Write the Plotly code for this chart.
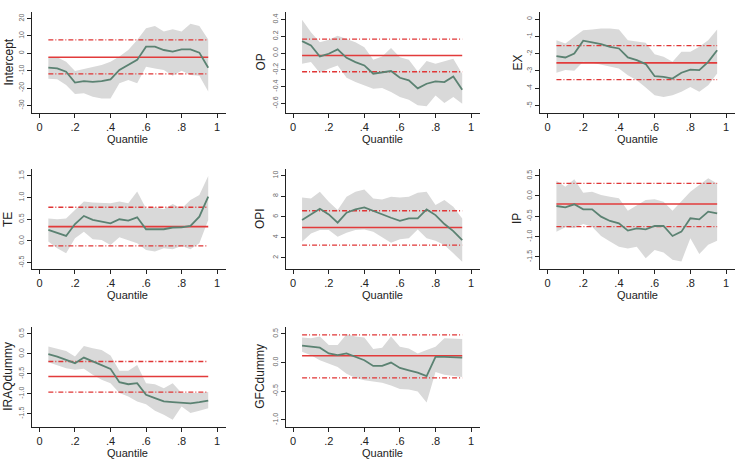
import plotly.graph_objects as go

W, H = 737, 460
quantiles = [0.05, 0.10, 0.15, 0.20, 0.25, 0.30, 0.35, 0.40, 0.45, 0.50,
             0.55, 0.60, 0.65, 0.70, 0.75, 0.80, 0.85, 0.90, 0.95]

names = ["Intercept", "OP", "EX", "TE", "OPI", "IP", "IRAQdummy", "GFCdummy"]

intercept_coef = [-8.3, -8.7, -10.6, -16.9, -16.0, -16.5, -16.0, -15.0, -9.6, -6.7,
                  -3.8, 3.8, 3.8, 1.9, 1.0, 2.3, 2.3, 0.4, -8.3]
intercept_hi = [-2.3, -2.3, -4.8, -10.2, -9.0, -7.7, -6.7, -4.8, -1.9, 1.9,
                7.7, 14.4, 15.8, 12.5, 13.8, 12.5, 17.0, 15.8, 8.0]
intercept_lo = [-14.6, -15.0, -18.3, -23.5, -23.0, -25.0, -26.0, -26.0, -17.3, -15.4,
                -17.3, -7.7, -8.7, -9.6, -13.0, -10.0, -12.5, -13.0, -22.0]
intercept_ols = [-2.3, 7.7, -11.9]

op_coef = [0.143, 0.09, -0.04, -0.008, 0.044, -0.056, -0.107, -0.147, -0.246, -0.226,
           -0.214, -0.294, -0.325, -0.42, -0.365, -0.337, -0.345, -0.278, -0.437]
op_hi = [0.397, 0.25, 0.13, 0.159, 0.206, 0.17, 0.13, 0.071, -0.079, -0.04,
         0.06, -0.048, -0.079, -0.218, -0.095, -0.127, -0.1, -0.067, -0.246]
op_lo = [-0.127, -0.107, -0.238, -0.186, -0.147, -0.294, -0.345, -0.385, -0.425, -0.417,
         -0.464, -0.524, -0.556, -0.623, -0.635, -0.504, -0.595, -0.524, -0.603]
op_ols = [-0.028, 0.167, -0.222]

ex_coef = [-2.14, -2.22, -1.99, -1.25, -1.35, -1.45, -1.6, -1.7, -2.22, -2.37,
           -2.6, -3.3, -3.34, -3.44, -3.1, -2.92, -2.95, -2.47, -1.8]
ex_hi = [-1.22, -1.41, -1.02, -0.64, -0.6, -0.54, -0.54, -0.6, -1.22, -1.31,
         -1.37, -2.03, -2.18, -2.47, -1.89, -1.89, -1.6, -1.22, -0.6]
ex_lo = [-3.1, -2.95, -2.99, -2.47, -2.53, -2.63, -2.76, -2.86, -3.24, -3.53,
         -3.96, -4.4, -4.5, -4.4, -4.2, -3.92, -4.2, -3.82, -3.15]
ex_ols = [-2.53, -1.53, -3.5]

te_coef = [0.254, 0.177, 0.115, 0.39, 0.577, 0.485, 0.446, 0.408, 0.5, 0.47,
           0.546, 0.27, 0.27, 0.27, 0.31, 0.315, 0.346, 0.56, 1.02]
te_hi = [0.52, 0.5, 0.52, 0.715, 0.91, 0.885, 0.87, 0.87, 0.91, 0.87,
         1.14, 0.75, 0.777, 0.73, 0.854, 0.75, 0.946, 1.06, 1.5]
te_lo = [-0.015, -0.17, -0.285, 0.06, 0.215, 0.04, 0.023, -0.092, 0.085, 0.023,
         -0.054, -0.208, -0.246, -0.17, -0.192, -0.115, -0.192, -0.054, 0.485]
te_ols = [0.33, 0.777, -0.115]

opi_coef = [5.68, 6.23, 6.78, 6.23, 5.42, 6.39, 6.71, 6.9, 6.55, 6.23,
            5.9, 5.61, 5.84, 5.84, 6.71, 6.16, 5.29, 4.6, 3.73]
opi_hi = [7.88, 7.78, 8.43, 7.46, 6.65, 7.94, 8.43, 8.65, 7.78, 7.68,
          7.94, 7.88, 7.94, 8.33, 8.43, 7.13, 7.62, 6.97, 5.84]
opi_lo = [3.57, 4.38, 4.71, 4.71, 4.06, 4.45, 4.71, 4.77, 4.54, 3.99,
          3.48, 3.8, 3.9, 4.77, 3.9, 3.67, 3.25, 2.44, 1.63]
opi_ols = [4.96, 6.58, 3.25]

ip_coef = [-0.246, -0.279, -0.205, -0.328, -0.328, -0.508, -0.615, -0.672, -0.852, -0.795,
           -0.82, -0.738, -0.738, -0.984, -0.877, -0.549, -0.574, -0.385, -0.426]
ip_hi = [0.377, 0.23, 0.41, 0.082, 0.107, 0.025, -0.016, -0.057, -0.36, -0.22,
         -0.098, -0.082, -0.139, -0.36, -0.139, 0.107, 0.27, 0.434, 0.31]
ip_lo = [-0.877, -0.77, -0.795, -0.689, -0.754, -0.984, -1.12, -1.25, -1.29, -1.25,
         -1.53, -1.33, -1.39, -1.57, -1.61, -1.04, -1.43, -1.2, -1.1]
ip_ols = [-0.197, 0.31, -0.754]

iraq_coef = [-0.008, -0.067, -0.15, -0.233, -0.092, -0.19, -0.275, -0.375, -0.71, -0.76,
             -0.733, -1.025, -1.11, -1.19, -1.21, -1.22, -1.24, -1.21, -1.17]
iraq_hi = [0.183, 0.125, 0.075, -0.067, 0.2, 0.142, 0.1, -0.042, -0.425, -0.425,
           -0.275, -0.733, -0.758, -0.858, -0.733, -0.983, -0.983, -0.983, -0.958]
iraq_lo = [-0.208, -0.29, -0.358, -0.4, -0.375, -0.525, -0.65, -0.733, -0.983, -1.067,
           -1.19, -1.26, -1.425, -1.525, -1.65, -1.32, -1.48, -1.425, -1.36]
iraq_ols = [-0.567, -0.19, -0.958]

gfc_coef = [0.294, 0.276, 0.259, 0.159, 0.13, 0.159, 0.1, 0.041, -0.059, -0.059,
            0.0, -0.094, -0.135, -0.176, -0.235, 0.1, 0.1, 0.1, 0.088]
gfc_hi = [0.435, 0.424, 0.453, 0.306, 0.306, 0.494, 0.453, 0.435, 0.235, 0.259,
          0.453, 0.276, 0.247, 0.159, 0.218, 0.276, 0.424, 0.424, 0.412]
gfc_lo = [0.188, 0.129, 0.041, -0.018, -0.076, -0.194, -0.27, -0.31, -0.33, -0.353,
          -0.4, -0.46, -0.47, -0.506, -0.694, -0.165, -0.212, -0.235, -0.253]
gfc_ols = [0.118, 0.482, -0.265]

x_tickvals = [0, 0.2, 0.4, 0.6, 0.8, 1]
x_ticktext = ["0", ".2", ".4", ".6", ".8", "1"]

y_ticks = [
    ([20, 10, 0, -10, -20, -30], ["20", "10", "0", "-10", "-20", "-30"]),
    ([0.4, 0.2, 0, -0.2, -0.4, -0.6], ["0.4", "0.2", "0.0", "-0.2", "-0.4", "-0.6"]),
    ([0, -1, -2, -3, -4, -5], ["0", "-1", "-2", "-3", "-4", "-5"]),
    ([1.5, 1.0, 0.5, 0, -0.5], ["1.5", "1.0", "0.5", "0.0", "-0.5"]),
    ([10, 8, 6, 4, 2], ["10", "8", "6", "4", "2"]),
    ([0.5, 0, -0.5, -1.0, -1.5], ["0.5", "0.0", "-0.5", "-1.0", "-1.5"]),
    ([0.5, 0, -0.5, -1.0, -1.5], ["0.5", "0.0", "-0.5", "-1.0", "-1.5"]),
    ([0.5, 0, -0.5, -1.0], ["0.5", "0.0", "-0.5", "-1.0"]),
]

series = [
    (intercept_coef, intercept_hi, intercept_lo, intercept_ols),
    (op_coef, op_hi, op_lo, op_ols),
    (ex_coef, ex_hi, ex_lo, ex_ols),
    (te_coef, te_hi, te_lo, te_ols),
    (opi_coef, opi_hi, opi_lo, opi_ols),
    (ip_coef, ip_hi, ip_lo, ip_ols),
    (iraq_coef, iraq_hi, iraq_lo, iraq_ols),
    (gfc_coef, gfc_hi, gfc_lo, gfc_ols),
]

# layout geometry (pixels)
col_x = [(32, 226), (285.7, 480), (540, 735)]
row_y = [(12, 113), (169, 269), (327, 426.5)]
y_ranges = [(-34.4, 23.8), (-0.714, 0.49), (-5.43, 0.41), (-0.647, 1.66),
            (0.92, 10.64), (-1.796, 0.664), (-1.82, 0.675), (-1.114, 0.62)]
x_range = (-0.042, 1.05)
ytitle_x = [8, 260, 517]
xtitle_x = [128, 382, 637]
xtitle_y = [138.5, 295, 452.5]

band_col = "#d9d9d9"
coef_col = "#5b8272"
ols_col = "#e23b3b"
ci_col = "#e03535"

fig = go.Figure()
layout = dict(width=W, height=H, margin=dict(l=0, r=0, t=0, b=0),
              plot_bgcolor="white", paper_bgcolor="white", showlegend=False,
              font=dict(family="Liberation Sans, Arial, sans-serif", color="#222"))
annotations = []

for i, (coef, hi, lo, ols) in enumerate(series):
    r, c = divmod(i, 3)
    sfx = "" if i == 0 else str(i + 1)
    xa, ya = "x" + sfx, "y" + sfx
    fig.add_trace(go.Scatter(x=quantiles, y=lo, mode="lines", line=dict(width=0),
                             xaxis=xa, yaxis=ya, hoverinfo="skip"))
    fig.add_trace(go.Scatter(x=quantiles, y=hi, mode="lines", line=dict(width=0),
                             fill="tonexty", fillcolor=band_col,
                             xaxis=xa, yaxis=ya, hoverinfo="skip"))
    qx = [quantiles[0], quantiles[-1]]
    fig.add_trace(go.Scatter(x=qx, y=[ols[1], ols[1]], mode="lines",
                             line=dict(color=ci_col, width=1.3, dash="5px,2px,1px,2px"),
                             xaxis=xa, yaxis=ya))
    fig.add_trace(go.Scatter(x=qx, y=[ols[2], ols[2]], mode="lines",
                             line=dict(color=ci_col, width=1.3, dash="5px,2px,1px,2px"),
                             xaxis=xa, yaxis=ya))
    fig.add_trace(go.Scatter(x=qx, y=[ols[0], ols[0]], mode="lines",
                             line=dict(color=ols_col, width=1.6),
                             xaxis=xa, yaxis=ya))
    fig.add_trace(go.Scatter(x=quantiles, y=coef, mode="lines",
                             line=dict(color=coef_col, width=1.8),
                             xaxis=xa, yaxis=ya))

    x0, x1 = col_x[c]
    y0, y1 = row_y[r]
    layout["xaxis" + sfx] = dict(
        domain=[x0 / W, x1 / W], anchor=ya, range=list(x_range),
        tickvals=x_tickvals, ticktext=x_ticktext, ticks="outside", ticklen=4,
        tickwidth=1, tickcolor="#222", showline=True, linecolor="#222", linewidth=1.2,
        showgrid=False, zeroline=False, tickfont=dict(size=11, color="#222"))
    layout["yaxis" + sfx] = dict(
        domain=[1 - y1 / H, 1 - y0 / H], anchor=xa, range=list(y_ranges[i]),
        tickvals=y_ticks[i][0], ticktext=y_ticks[i][1], tickangle=-90,
        ticks="outside", ticklen=4, tickwidth=1, tickcolor="#222",
        showline=True, linecolor="#222", linewidth=1.2, showgrid=False, zeroline=False,
        tickfont=dict(size=7, color="#666"))
    annotations.append(dict(text=names[i], x=ytitle_x[c] / W, y=1 - ((y0 + y1) / 2) / H,
                            xref="paper", yref="paper", showarrow=False, textangle=-90,
                            font=dict(size=12, color="#222"), xanchor="center", yanchor="middle"))
    annotations.append(dict(text="Quantile", x=xtitle_x[c] / W, y=1 - xtitle_y[r] / H,
                            xref="paper", yref="paper", showarrow=False,
                            font=dict(size=11, color="#222"), xanchor="center", yanchor="middle"))

layout["annotations"] = annotations
fig.update_layout(**layout)
fig.write_html("out.html")
